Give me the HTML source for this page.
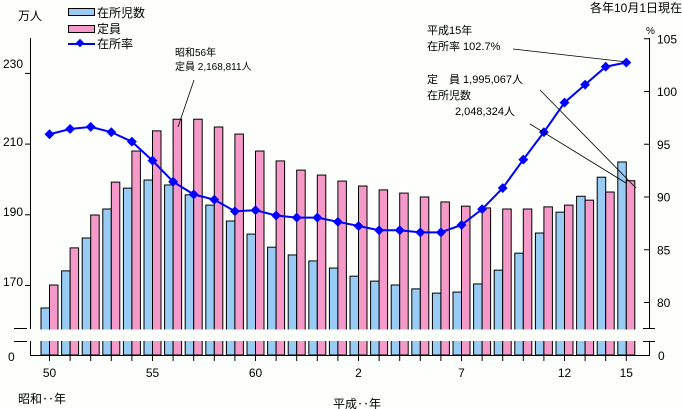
<!DOCTYPE html>
<html><head><meta charset="utf-8"><style>
html,body{margin:0;padding:0;background:#fcfffc;}
svg{display:block;font-family:"Liberation Sans","Noto Sans CJK JP",sans-serif;}
</style></head><body>
<svg id="chart" width="682" height="409" viewBox="0 0 682 409" xmlns="http://www.w3.org/2000/svg">
<rect x="0" y="0" width="682" height="409" fill="#fcfffc"/>
<g id="bars"></g>
<rect x="0" y="329.5" width="682" height="11.5" fill="#fcfffc"/>
<g id="axes" stroke="#000" stroke-width="1" fill="none">
<line x1="30.5" y1="38" x2="30.5" y2="329"/>
<line x1="30.5" y1="341" x2="30.5" y2="355"/>
<line x1="14" y1="328.5" x2="27" y2="328.5"/>
<line x1="14" y1="341.5" x2="27" y2="341.5"/>
<line x1="649.5" y1="38" x2="649.5" y2="329"/>
<line x1="649.5" y1="341" x2="649.5" y2="355"/>
<line x1="643" y1="328.5" x2="655" y2="328.5"/>
<line x1="643" y1="341.5" x2="655" y2="341.5"/>
<line x1="30" y1="355.5" x2="650" y2="355.5"/>
</g>
<g id="ticks"></g>
<g id="line"></g>
<g font-size="12" fill="#000">
<text x="18" y="20">万人</text>
<text x="3" y="68" font-size="12">230</text>
<text x="3" y="146">210</text>
<text x="3" y="216">190</text>
<text x="3" y="286">170</text>
<text x="8" y="361">0</text>
<text x="646" y="34" font-size="10">%</text>
<text x="658" y="360">0</text>
<text x="18" y="403">昭和‥年</text>
<text x="333" y="408">平成‥年</text>
<text x="590" y="12">各年10月1日現在</text>
<text x="175" y="56" font-size="10">昭和56年</text>
<text x="175" y="70" font-size="10">定員 2,168,811人</text>
<text x="427" y="34" font-size="11">平成15年</text>
<text x="427" y="50" font-size="11">在所率  102.7%</text>
<text x="427" y="83" font-size="11">定　員 1,995,067人</text>
<text x="427" y="99" font-size="11">在所児数</text>
<text x="455" y="115" font-size="11">2,048,324人</text>
</g>
<g stroke="#000" stroke-width="0.8">
<line x1="194" y1="80" x2="178" y2="127"/>
<line x1="513" y1="49" x2="627" y2="62"/>
<line x1="540" y1="90" x2="636" y2="188"/>
<line x1="530" y1="124" x2="626" y2="183"/>
</g>
<g font-size="12">
<rect x="68.5" y="8.5" width="26" height="7" fill="#99ccf5" stroke="#000"/>
<text x="97" y="17">在所児数</text>
<rect x="68.5" y="25.5" width="26" height="7" fill="#f59ac8" stroke="#000"/>
<text x="97" y="33">定員</text>
<line x1="68" y1="44" x2="95" y2="44" stroke="#0000ff" stroke-width="2"/>
<rect x="77" y="40" width="6" height="6" fill="#0000ff" transform="rotate(45 80 43)"/>
<text x="97" y="48">在所率</text>
</g>
</svg>
<script>
const categories=["50","51","52","53","54","55","56","57","58","59","60","61","62","63","1","2","3","4","5","6","7","8","9","10","11","12","13","14","15"];
const xLabels=["50","55","60","2","7","12","15"];
const enrolled=[163.5,174.0,183.3,191.5,197.4,199.7,198.3,195.5,192.6,188.1,184.4,180.7,178.5,176.8,174.8,172.5,171.1,170.0,168.9,167.7,168.0,170.3,174.2,179.0,184.7,190.6,195.1,200.5,204.8];
const capacity=[170.0,180.5,189.8,199.1,207.9,213.6,216.9,216.9,214.7,212.7,207.9,205.1,202.5,201.1,199.4,198.0,196.9,196.0,194.9,193.5,192.3,191.8,191.5,191.5,192.1,192.6,194.0,196.3,199.5];
const rate=[95.9,96.4,96.6,96.1,95.2,93.4,91.4,90.2,89.7,88.6,88.7,88.2,88.0,88.0,87.6,87.2,86.8,86.8,86.6,86.6,87.3,88.8,90.8,93.5,96.1,98.9,100.6,102.3,102.7];
const rightTicks=[80,85,90,95,100,105];
const NS="http://www.w3.org/2000/svg";
const xc=i=>49.5+20.6*i;
const yL=v=>285-(v-170)*3.535;
const yR=p=>302-(p-80)*10.55;
const bars=document.getElementById('bars');
const ticks=document.getElementById('ticks');
const lineG=document.getElementById('line');
function mk(tag,attrs,parent){const e=document.createElementNS(NS,tag);for(const k in attrs)e.setAttribute(k,attrs[k]);parent.appendChild(e);return e;}
categories.forEach((c,i)=>{
  const x=xc(i);
  const b=mk('rect',{x:x-8.5,y:yL(enrolled[i]),width:8.5,height:355-yL(enrolled[i]),fill:'#99ccf5',stroke:'#000','stroke-width':1},bars);
  
  
  const p=mk('rect',{x:x,y:yL(capacity[i]),width:8.5,height:355-yL(capacity[i]),fill:'#f59ac8',stroke:'#000','stroke-width':1},bars);
  
  
  const t=mk('line',{x1:x,y1:355,x2:x,y2:361,stroke:'#000'},ticks);
  
  
  if(xLabels.includes(c)&&!(c==="1")){
    const tx=mk('text',{x:x,y:377,'text-anchor':'middle','font-size':12},ticks);
    tx.textContent=c;
    
    
  }
});
[170,190,210,230].forEach(v=>{
  const t=mk('line',{x1:25,y1:yL(v)+0.5,x2:30,y2:yL(v)+0.5,stroke:'#000'},ticks);
  
  
});
rightTicks.forEach(p=>{
  const t=mk('line',{x1:644,y1:yR(p)+0.5,x2:649,y2:yR(p)+0.5,stroke:'#000'},ticks);
  
  
  const tx=mk('text',{x:657,y:yR(p)+5,'font-size':12},ticks);
  tx.textContent=p;
  
  
});
const pl=mk('polyline',{points:rate.map((p,i)=>xc(i)+','+yR(p)).join(' '),fill:'none',stroke:'#0000ff','stroke-width':2},lineG);


rate.forEach((p,i)=>{
  const m=mk('rect',{x:xc(i)-3.5,y:yR(p)-3.5,width:7,height:7,fill:'#0000ff',transform:'rotate(45 '+xc(i)+' '+yR(p)+')'},lineG);
  
  
});
</script>
</body></html>
